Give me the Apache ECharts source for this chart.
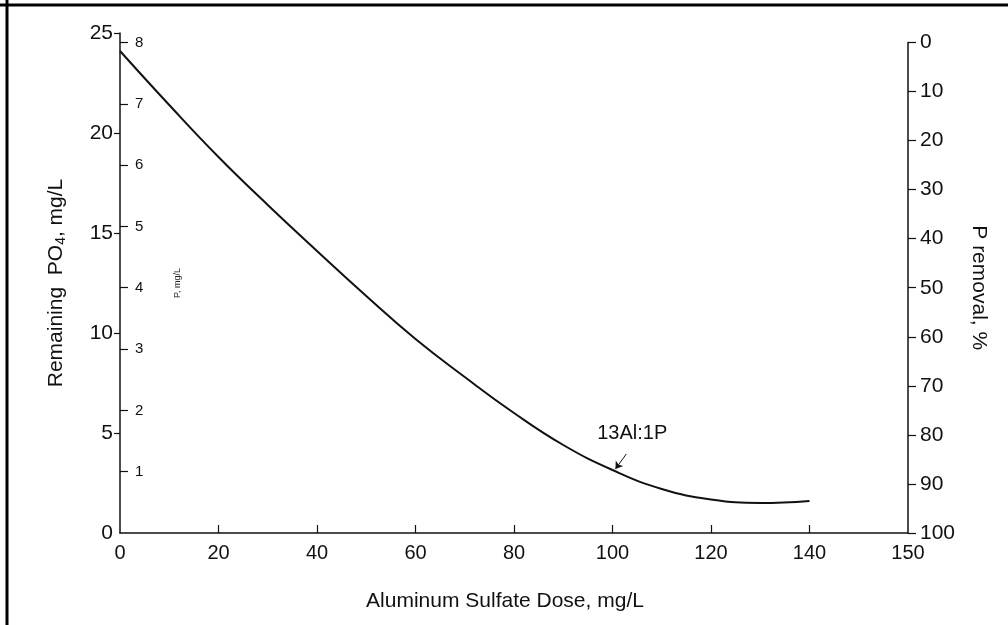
<!DOCTYPE html>
<html>
<head>
<meta charset="utf-8">
<script src="https://cdn.jsdelivr.net/npm/echarts@6/dist/echarts.min.js"></script>
<style>
  html, body { margin: 0; padding: 0; background: #fff; }
  #chart { width: 1008px; height: 625px; }
</style>
</head>
<body>
<div id="chart"></div>
<script>
// alum dose (mg/L) vs remaining PO4 (mg/L)
var dose = [0, 10, 20, 30, 40, 50, 60, 70, 80, 90, 100, 110, 120, 130, 140];
var po4 = [24.1, 21.4, 18.8, 16.4, 14.1, 11.85, 9.7, 7.8, 6.0, 4.4, 3.15, 2.2, 1.68, 1.5, 1.6];

// x axis: the printed figure puts "150" at the end of the axis
var xTickValues = [0, 20, 40, 60, 80, 100, 120, 140, 160];
var xTickLabels = ['0', '20', '40', '60', '80', '100', '120', '140', '150'];
var pTicks = [1, 2, 3, 4, 5, 6, 7, 8];
var PO4_PER_P = 3.066;
var P0 = 8 * PO4_PER_P;   // initial PO4, i.e. 0 % removal

var chart = echarts.init(document.getElementById('chart'));

var sansFont = '"Liberation Sans", Arial, sans-serif';
var ink = '#111';

var option = {
    animation: false,
    backgroundColor: '#fff',
    grid: [
        { left: 120, right: 100, top: 33, bottom: 92 },
        { left: 120, right: 100, top: 533 - P0 * 20, bottom: 92 }
    ],
    xAxis: [{
        type: 'value',
        gridIndex: 0,
        min: 0,
        max: 160,
        interval: 20,
        splitLine: { show: false },
        axisLine: { show: true, onZero: false, lineStyle: { color: ink, width: 1.5 } },
        axisTick: {
            show: true,
            inside: true,
            length: 8,
            customValues: [20, 40, 60, 80, 100, 120, 140],
            lineStyle: { color: ink, width: 1.2 }
        },
        axisLabel: {
            customValues: xTickValues,
            formatter: function(v) {
                var i = xTickValues.indexOf(v);
                return i >= 0 ? xTickLabels[i] : '';
            },
            color: ink,
            fontFamily: sansFont,
            fontSize: 20,
            margin: 10
        },
        name: 'Aluminum Sulfate Dose, mg/L',
        nameLocation: 'middle',
        nameGap: 58,
        nameTextStyle: { color: ink, fontFamily: sansFont, fontSize: 21, padding: [0, 18, 0, 0] }
    }, {
        type: 'value',
        gridIndex: 1,
        min: 0,
        max: 160,
        show: false
    }],
    yAxis: [{
        type: 'value',
        gridIndex: 0,
        position: 'left',
        min: 0,
        max: 25,
        interval: 5,
        splitLine: { show: false },
        axisLine: { show: true, onZero: false, lineStyle: { color: ink, width: 1.5 } },
        axisTick: {
            show: true,
            length: 6,
            customValues: [5, 10, 15, 20, 25],
            lineStyle: { color: ink, width: 1.2 }
        },
        axisLabel: {
            color: ink,
            fontFamily: sansFont,
            fontSize: 21,
            margin: 7
        },
        name: 'Remaining  PO{sub|4}, mg/L',
        nameLocation: 'middle',
        nameGap: 52,
        nameTextStyle: {
            color: ink,
            fontFamily: sansFont,
            fontSize: 21,
            rich: {
                sub: { fontFamily: sansFont, fontSize: 14, verticalAlign: 'bottom', padding: [10, 0, 0, 0] }
            }
        }
    }, {
        type: 'value',
        gridIndex: 0,
        position: 'left',
        min: 0,
        max: 25 / PO4_PER_P,
        splitLine: { show: false },
        axisLine: { show: false, onZero: false },
        axisTick: {
            show: true,
            inside: true,
            length: 8,
            customValues: pTicks,
            lineStyle: { color: ink, width: 1.2 }
        },
        axisLabel: {
            inside: true,
            customValues: pTicks,
            color: ink,
            fontFamily: sansFont,
            fontSize: 15,
            margin: 15
        },
        name: 'P, mg/L',
        nameLocation: 'middle',
        nameGap: -62,
        nameTextStyle: { color: '#222', fontFamily: sansFont, fontSize: 9 }
    }, {
        type: 'value',
        gridIndex: 1,
        position: 'right',
        inverse: true,
        min: 0,
        max: 100,
        interval: 10,
        splitLine: { show: false },
        axisLine: { show: true, onZero: false, lineStyle: { color: ink, width: 1.5 } },
        axisTick: { show: true, length: 8, lineStyle: { color: ink, width: 1.2 } },
        axisLabel: {
            color: ink,
            fontFamily: sansFont,
            fontSize: 21,
            margin: 12
        },
        name: 'P removal, %',
        nameLocation: 'middle',
        nameGap: 60,
        nameRotate: -90,
        nameTextStyle: { color: ink, fontFamily: sansFont, fontSize: 21 }
    }],
    series: [{
        type: 'line',
        xAxisIndex: 0,
        yAxisIndex: 0,
        data: dose.map(function(d, i) { return [d, po4[i]]; }),
        smooth: 0.45,
        symbol: 'none',
        lineStyle: { color: ink, width: 2 },
        markLine: {
            silent: true,
            symbol: ['none', 'arrow'],
            symbolSize: 7,
            lineStyle: { color: ink, width: 1, type: 'solid' },
            label: { show: false },
            data: [[{ coord: [102.8, 3.95] }, { coord: [100.6, 3.2] }]]
        },
        markPoint: {
            silent: true,
            symbolSize: 0,
            label: {
                show: true,
                formatter: '13Al:1P',
                color: ink,
                fontFamily: sansFont,
                fontSize: 20
            },
            data: [{ coord: [104, 5.0] }]
        }
    }],
    graphic: [{
        type: 'line',
        shape: { x1: 0, y1: 5, x2: 1008, y2: 5 },
        style: { stroke: '#000', lineWidth: 3 }
    }, {
        type: 'line',
        shape: { x1: 7, y1: 0, x2: 7, y2: 625 },
        style: { stroke: '#000', lineWidth: 3 }
    }]
};

chart.setOption(option);
</script>
</body>
</html>
